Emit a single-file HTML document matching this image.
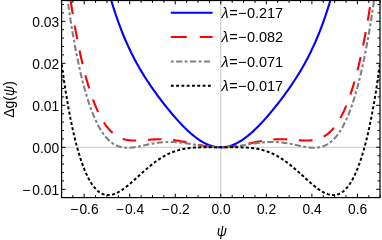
<!DOCTYPE html>
<html><head><meta charset="utf-8"><style>
html,body{margin:0;padding:0;background:#fff}
svg{display:block}
text{font-family:"Liberation Sans",sans-serif;font-size:13.8px;fill:#000}
</style></head><body>
<svg width="382" height="240" viewBox="0 0 382 240">
<rect width="382" height="240" fill="#fff"/>
<defs><clipPath id="c"><rect x="61.6" y="0.5" width="318.4" height="197.1"/></clipPath></defs>
<g clip-path="url(#c)" fill="none">
<path d="M61.6 147.3H380.0M220.8 0.5V197.6" stroke="#c8c8c8" stroke-width="1"/>
<path d="M101.26 -38.23 L102.40 -33.29 L103.53 -28.50 L104.67 -23.85 L105.81 -19.34 L106.95 -14.97 L108.09 -10.74 L109.23 -6.63 L110.37 -2.65 L111.50 1.21 L112.64 4.95 L113.78 8.58 L114.92 12.10 L116.06 15.52 L117.20 18.83 L118.34 22.05 L119.47 25.17 L120.61 28.20 L121.75 31.14 L122.89 34.00 L124.03 36.78 L125.17 39.48 L126.30 42.10 L127.44 44.66 L128.58 47.15 L129.72 49.57 L130.86 51.93 L132.00 54.24 L133.14 56.48 L134.27 58.68 L135.41 60.82 L136.55 62.92 L137.69 64.97 L138.83 66.98 L139.97 68.94 L141.11 70.87 L142.24 72.76 L143.38 74.62 L144.52 76.44 L145.66 78.23 L146.80 80.00 L147.94 81.74 L149.07 83.45 L150.21 85.13 L151.35 86.79 L152.49 88.43 L153.63 90.05 L154.77 91.65 L155.91 93.23 L157.04 94.79 L158.18 96.34 L159.32 97.86 L160.46 99.37 L161.60 100.87 L162.74 102.35 L163.88 103.81 L165.01 105.26 L166.15 106.69 L167.29 108.11 L168.43 109.51 L169.57 110.89 L170.71 112.27 L171.84 113.62 L172.98 114.96 L174.12 116.28 L175.26 117.59 L176.40 118.87 L177.54 120.14 L178.68 121.39 L179.81 122.63 L180.95 123.84 L182.09 125.03 L183.23 126.20 L184.37 127.34 L185.51 128.46 L186.65 129.56 L187.78 130.64 L188.92 131.69 L190.06 132.71 L191.20 133.70 L192.34 134.67 L193.48 135.61 L194.61 136.51 L195.75 137.39 L196.89 138.23 L198.03 139.04 L199.17 139.82 L200.31 140.56 L201.45 141.27 L202.58 141.94 L203.72 142.57 L204.86 143.17 L206.00 143.73 L207.14 144.25 L208.28 144.73 L209.42 145.17 L210.55 145.57 L211.69 145.93 L212.83 146.25 L213.97 146.53 L215.11 146.76 L216.25 146.96 L217.38 147.11 L218.52 147.21 L219.66 147.28 L220.80 147.30 L221.94 147.28 L223.08 147.21 L224.22 147.11 L225.35 146.96 L226.49 146.76 L227.63 146.53 L228.77 146.25 L229.91 145.93 L231.05 145.57 L232.19 145.17 L233.32 144.73 L234.46 144.25 L235.60 143.73 L236.74 143.17 L237.88 142.57 L239.02 141.94 L240.15 141.27 L241.29 140.56 L242.43 139.82 L243.57 139.04 L244.71 138.23 L245.85 137.39 L246.99 136.51 L248.12 135.61 L249.26 134.67 L250.40 133.70 L251.54 132.71 L252.68 131.69 L253.82 130.64 L254.96 129.56 L256.09 128.46 L257.23 127.34 L258.37 126.20 L259.51 125.03 L260.65 123.84 L261.79 122.63 L262.92 121.39 L264.06 120.14 L265.20 118.87 L266.34 117.59 L267.48 116.28 L268.62 114.96 L269.76 113.62 L270.89 112.27 L272.03 110.89 L273.17 109.51 L274.31 108.11 L275.45 106.69 L276.59 105.26 L277.73 103.81 L278.86 102.35 L280.00 100.87 L281.14 99.37 L282.28 97.86 L283.42 96.34 L284.56 94.79 L285.69 93.23 L286.83 91.65 L287.97 90.05 L289.11 88.43 L290.25 86.79 L291.39 85.13 L292.53 83.45 L293.66 81.74 L294.80 80.00 L295.94 78.23 L297.08 76.44 L298.22 74.62 L299.36 72.76 L300.50 70.87 L301.63 68.94 L302.77 66.98 L303.91 64.97 L305.05 62.92 L306.19 60.82 L307.33 58.68 L308.46 56.48 L309.60 54.24 L310.74 51.93 L311.88 49.57 L313.02 47.15 L314.16 44.66 L315.30 42.10 L316.43 39.48 L317.57 36.78 L318.71 34.00 L319.85 31.14 L320.99 28.20 L322.13 25.17 L323.27 22.05 L324.40 18.83 L325.54 15.52 L326.68 12.10 L327.82 8.58 L328.96 4.95 L330.10 1.21 L331.23 -2.65 L332.37 -6.63 L333.51 -10.74 L334.65 -14.97 L335.79 -19.34 L336.93 -23.85 L338.07 -28.50 L339.20 -33.29 L340.34 -38.23" stroke="#0000ff" stroke-width="2.1"/>
<path d="M65.96 -32.92 L67.10 -24.20 L68.24 -15.84 L69.38 -7.82 L70.52 -0.13 L71.66 7.24 L72.80 14.31 L73.93 21.09 L75.07 27.58 L76.21 33.81 L77.35 39.78 L78.49 45.49 L79.63 50.97 L80.76 56.20 L81.90 61.22 L83.04 66.01 L84.18 70.60 L85.32 74.97 L86.46 79.15 L87.60 83.14 L88.73 86.95 L89.87 90.57 L91.01 94.02 L92.15 97.30 L93.29 100.41 L94.43 103.37 L95.57 106.17 L96.70 108.82 L97.84 111.34 L98.98 113.71 L100.12 115.94 L101.26 118.05 L102.40 120.03 L103.53 121.89 L104.67 123.63 L105.81 125.26 L106.95 126.78 L108.09 128.19 L109.23 129.50 L110.37 130.72 L111.50 131.85 L112.64 132.88 L113.78 133.83 L114.92 134.70 L116.06 135.50 L117.20 136.22 L118.34 136.86 L119.47 137.45 L120.61 137.97 L121.75 138.43 L122.89 138.84 L124.03 139.19 L125.17 139.50 L126.30 139.76 L127.44 139.97 L128.58 140.15 L129.72 140.29 L130.86 140.40 L132.00 140.48 L133.14 140.53 L134.27 140.55 L135.41 140.56 L136.55 140.54 L137.69 140.51 L138.83 140.46 L139.97 140.40 L141.11 140.33 L142.24 140.25 L143.38 140.16 L144.52 140.07 L145.66 139.98 L146.80 139.89 L147.94 139.80 L149.07 139.71 L150.21 139.62 L151.35 139.54 L152.49 139.46 L153.63 139.40 L154.77 139.34 L155.91 139.29 L157.04 139.25 L158.18 139.22 L159.32 139.20 L160.46 139.19 L161.60 139.20 L162.74 139.22 L163.88 139.25 L165.01 139.29 L166.15 139.35 L167.29 139.42 L168.43 139.50 L169.57 139.60 L170.71 139.71 L171.84 139.83 L172.98 139.96 L174.12 140.11 L175.26 140.27 L176.40 140.43 L177.54 140.61 L178.68 140.80 L179.81 141.00 L180.95 141.20 L182.09 141.41 L183.23 141.63 L184.37 141.86 L185.51 142.09 L186.65 142.32 L187.78 142.56 L188.92 142.80 L190.06 143.04 L191.20 143.28 L192.34 143.53 L193.48 143.77 L194.61 144.01 L195.75 144.25 L196.89 144.48 L198.03 144.71 L199.17 144.94 L200.31 145.15 L201.45 145.36 L202.58 145.57 L203.72 145.76 L204.86 145.95 L206.00 146.13 L207.14 146.29 L208.28 146.45 L209.42 146.59 L210.55 146.72 L211.69 146.84 L212.83 146.95 L213.97 147.04 L215.11 147.12 L216.25 147.18 L217.38 147.23 L218.52 147.27 L219.66 147.29 L220.80 147.30 L221.94 147.29 L223.08 147.27 L224.22 147.23 L225.35 147.18 L226.49 147.12 L227.63 147.04 L228.77 146.95 L229.91 146.84 L231.05 146.72 L232.19 146.59 L233.32 146.45 L234.46 146.29 L235.60 146.13 L236.74 145.95 L237.88 145.76 L239.02 145.57 L240.15 145.36 L241.29 145.15 L242.43 144.94 L243.57 144.71 L244.71 144.48 L245.85 144.25 L246.99 144.01 L248.12 143.77 L249.26 143.53 L250.40 143.28 L251.54 143.04 L252.68 142.80 L253.82 142.56 L254.96 142.32 L256.09 142.09 L257.23 141.86 L258.37 141.63 L259.51 141.41 L260.65 141.20 L261.79 141.00 L262.92 140.80 L264.06 140.61 L265.20 140.43 L266.34 140.27 L267.48 140.11 L268.62 139.96 L269.76 139.83 L270.89 139.71 L272.03 139.60 L273.17 139.50 L274.31 139.42 L275.45 139.35 L276.59 139.29 L277.73 139.25 L278.86 139.22 L280.00 139.20 L281.14 139.19 L282.28 139.20 L283.42 139.22 L284.56 139.25 L285.69 139.29 L286.83 139.34 L287.97 139.40 L289.11 139.46 L290.25 139.54 L291.39 139.62 L292.53 139.71 L293.66 139.80 L294.80 139.89 L295.94 139.98 L297.08 140.07 L298.22 140.16 L299.36 140.25 L300.50 140.33 L301.63 140.40 L302.77 140.46 L303.91 140.51 L305.05 140.54 L306.19 140.56 L307.33 140.55 L308.46 140.53 L309.60 140.48 L310.74 140.40 L311.88 140.29 L313.02 140.15 L314.16 139.97 L315.30 139.76 L316.43 139.50 L317.57 139.19 L318.71 138.84 L319.85 138.43 L320.99 137.97 L322.13 137.45 L323.27 136.86 L324.40 136.22 L325.54 135.50 L326.68 134.70 L327.82 133.83 L328.96 132.88 L330.10 131.85 L331.23 130.72 L332.37 129.50 L333.51 128.19 L334.65 126.78 L335.79 125.26 L336.93 123.63 L338.07 121.89 L339.20 120.03 L340.34 118.05 L341.48 115.94 L342.62 113.71 L343.76 111.34 L344.90 108.82 L346.04 106.17 L347.17 103.37 L348.31 100.41 L349.45 97.30 L350.59 94.02 L351.73 90.57 L352.87 86.95 L354.00 83.14 L355.14 79.15 L356.28 74.97 L357.42 70.60 L358.56 66.01 L359.70 61.22 L360.84 56.20 L361.97 50.97 L363.11 45.49 L364.25 39.78 L365.39 33.81 L366.53 27.58 L367.67 21.09 L368.81 14.31 L369.94 7.24 L371.08 -0.13 L372.22 -7.82 L373.36 -15.84 L374.50 -24.20 L375.64 -32.92" stroke="#ff0000" stroke-width="2.1" stroke-dasharray="13.7 11.7" stroke-dashoffset="-8.4"/>
<path d="M62.55 -39.09 L63.69 -29.51 L64.83 -20.34 L65.96 -11.56 L67.10 -3.15 L68.24 4.90 L69.38 12.61 L70.52 19.99 L71.66 27.06 L72.80 33.83 L73.93 40.31 L75.07 46.51 L76.21 52.44 L77.35 58.11 L78.49 63.54 L79.63 68.72 L80.76 73.68 L81.90 78.41 L83.04 82.92 L84.18 87.23 L85.32 91.33 L86.46 95.24 L87.60 98.95 L88.73 102.49 L89.87 105.84 L91.01 109.03 L92.15 112.04 L93.29 114.90 L94.43 117.60 L95.57 120.15 L96.70 122.55 L97.84 124.81 L98.98 126.93 L100.12 128.92 L101.26 130.78 L102.40 132.52 L103.53 134.14 L104.67 135.64 L105.81 137.04 L106.95 138.33 L108.09 139.51 L109.23 140.60 L110.37 141.59 L111.50 142.49 L112.64 143.31 L113.78 144.04 L114.92 144.69 L116.06 145.27 L117.20 145.78 L118.34 146.22 L119.47 146.60 L120.61 146.91 L121.75 147.17 L122.89 147.38 L124.03 147.54 L125.17 147.65 L126.30 147.71 L127.44 147.74 L128.58 147.73 L129.72 147.68 L130.86 147.61 L132.00 147.50 L133.14 147.38 L134.27 147.22 L135.41 147.05 L136.55 146.87 L137.69 146.66 L138.83 146.45 L139.97 146.22 L141.11 145.99 L142.24 145.75 L143.38 145.50 L144.52 145.26 L145.66 145.01 L146.80 144.77 L147.94 144.53 L149.07 144.29 L150.21 144.06 L151.35 143.84 L152.49 143.62 L153.63 143.42 L154.77 143.22 L155.91 143.04 L157.04 142.87 L158.18 142.71 L159.32 142.57 L160.46 142.44 L161.60 142.32 L162.74 142.22 L163.88 142.13 L165.01 142.06 L166.15 142.01 L167.29 141.97 L168.43 141.95 L169.57 141.94 L170.71 141.94 L171.84 141.97 L172.98 142.00 L174.12 142.05 L175.26 142.11 L176.40 142.19 L177.54 142.28 L178.68 142.38 L179.81 142.49 L180.95 142.62 L182.09 142.75 L183.23 142.89 L184.37 143.04 L185.51 143.20 L186.65 143.36 L187.78 143.53 L188.92 143.71 L190.06 143.88 L191.20 144.07 L192.34 144.25 L193.48 144.44 L194.61 144.62 L195.75 144.81 L196.89 144.99 L198.03 145.17 L199.17 145.35 L200.31 145.53 L201.45 145.70 L202.58 145.86 L203.72 146.02 L204.86 146.18 L206.00 146.32 L207.14 146.46 L208.28 146.59 L209.42 146.71 L210.55 146.82 L211.69 146.92 L212.83 147.00 L213.97 147.08 L215.11 147.15 L216.25 147.20 L217.38 147.24 L218.52 147.28 L219.66 147.29 L220.80 147.30 L221.94 147.29 L223.08 147.28 L224.22 147.24 L225.35 147.20 L226.49 147.15 L227.63 147.08 L228.77 147.00 L229.91 146.92 L231.05 146.82 L232.19 146.71 L233.32 146.59 L234.46 146.46 L235.60 146.32 L236.74 146.18 L237.88 146.02 L239.02 145.86 L240.15 145.70 L241.29 145.53 L242.43 145.35 L243.57 145.17 L244.71 144.99 L245.85 144.81 L246.99 144.62 L248.12 144.44 L249.26 144.25 L250.40 144.07 L251.54 143.88 L252.68 143.71 L253.82 143.53 L254.96 143.36 L256.09 143.20 L257.23 143.04 L258.37 142.89 L259.51 142.75 L260.65 142.62 L261.79 142.49 L262.92 142.38 L264.06 142.28 L265.20 142.19 L266.34 142.11 L267.48 142.05 L268.62 142.00 L269.76 141.97 L270.89 141.94 L272.03 141.94 L273.17 141.95 L274.31 141.97 L275.45 142.01 L276.59 142.06 L277.73 142.13 L278.86 142.22 L280.00 142.32 L281.14 142.44 L282.28 142.57 L283.42 142.71 L284.56 142.87 L285.69 143.04 L286.83 143.22 L287.97 143.42 L289.11 143.62 L290.25 143.84 L291.39 144.06 L292.53 144.29 L293.66 144.53 L294.80 144.77 L295.94 145.01 L297.08 145.26 L298.22 145.50 L299.36 145.75 L300.50 145.99 L301.63 146.22 L302.77 146.45 L303.91 146.66 L305.05 146.87 L306.19 147.05 L307.33 147.22 L308.46 147.38 L309.60 147.50 L310.74 147.61 L311.88 147.68 L313.02 147.73 L314.16 147.74 L315.30 147.71 L316.43 147.65 L317.57 147.54 L318.71 147.38 L319.85 147.17 L320.99 146.91 L322.13 146.60 L323.27 146.22 L324.40 145.78 L325.54 145.27 L326.68 144.69 L327.82 144.04 L328.96 143.31 L330.10 142.49 L331.23 141.59 L332.37 140.60 L333.51 139.51 L334.65 138.33 L335.79 137.04 L336.93 135.64 L338.07 134.14 L339.20 132.52 L340.34 130.78 L341.48 128.92 L342.62 126.93 L343.76 124.81 L344.90 122.55 L346.04 120.15 L347.17 117.60 L348.31 114.90 L349.45 112.04 L350.59 109.03 L351.73 105.84 L352.87 102.49 L354.00 98.95 L355.14 95.24 L356.28 91.33 L357.42 87.23 L358.56 82.92 L359.70 78.41 L360.84 73.68 L361.97 68.72 L363.11 63.54 L364.25 58.11 L365.39 52.44 L366.53 46.51 L367.67 40.31 L368.81 33.83 L369.94 27.06 L371.08 19.99 L372.22 12.61 L373.36 4.90 L374.50 -3.15 L375.64 -11.56 L376.77 -20.34 L377.91 -29.51 L379.05 -39.09" stroke="#808080" stroke-width="2.1" stroke-dasharray="2.9 2.4 6.2 2.4" stroke-dashoffset="3.8"/>
<path d="M61.41 62.03 L62.55 70.46 L63.69 78.47 L64.83 86.08 L65.96 93.31 L67.10 100.18 L68.24 106.71 L69.38 112.90 L70.52 118.79 L71.66 124.36 L72.80 129.65 L73.93 134.66 L75.07 139.40 L76.21 143.89 L77.35 148.13 L78.49 152.13 L79.63 155.91 L80.76 159.46 L81.90 162.80 L83.04 165.94 L84.18 168.88 L85.32 171.62 L86.46 174.19 L87.60 176.57 L88.73 178.78 L89.87 180.83 L91.01 182.71 L92.15 184.44 L93.29 186.02 L94.43 187.46 L95.57 188.75 L96.70 189.91 L97.84 190.94 L98.98 191.85 L100.12 192.63 L101.26 193.29 L102.40 193.85 L103.53 194.29 L104.67 194.64 L105.81 194.88 L106.95 195.03 L108.09 195.08 L109.23 195.05 L110.37 194.94 L111.50 194.75 L112.64 194.48 L113.78 194.14 L114.92 193.73 L116.06 193.26 L117.20 192.73 L118.34 192.15 L119.47 191.51 L120.61 190.82 L121.75 190.09 L122.89 189.31 L124.03 188.50 L125.17 187.65 L126.30 186.77 L127.44 185.86 L128.58 184.93 L129.72 183.97 L130.86 182.99 L132.00 182.00 L133.14 180.99 L134.27 179.97 L135.41 178.95 L136.55 177.91 L137.69 176.88 L138.83 175.84 L139.97 174.80 L141.11 173.77 L142.24 172.74 L143.38 171.72 L144.52 170.71 L145.66 169.71 L146.80 168.72 L147.94 167.75 L149.07 166.79 L150.21 165.86 L151.35 164.93 L152.49 164.03 L153.63 163.15 L154.77 162.30 L155.91 161.46 L157.04 160.65 L158.18 159.86 L159.32 159.10 L160.46 158.36 L161.60 157.65 L162.74 156.97 L163.88 156.31 L165.01 155.68 L166.15 155.07 L167.29 154.49 L168.43 153.94 L169.57 153.42 L170.71 152.92 L171.84 152.45 L172.98 152.00 L174.12 151.58 L175.26 151.19 L176.40 150.81 L177.54 150.47 L178.68 150.14 L179.81 149.84 L180.95 149.56 L182.09 149.30 L183.23 149.06 L184.37 148.85 L185.51 148.65 L186.65 148.46 L187.78 148.30 L188.92 148.15 L190.06 148.02 L191.20 147.90 L192.34 147.79 L193.48 147.70 L194.61 147.62 L195.75 147.55 L196.89 147.49 L198.03 147.44 L199.17 147.40 L200.31 147.36 L201.45 147.34 L202.58 147.32 L203.72 147.30 L204.86 147.29 L206.00 147.28 L207.14 147.28 L208.28 147.27 L209.42 147.27 L210.55 147.28 L211.69 147.28 L212.83 147.28 L213.97 147.29 L215.11 147.29 L216.25 147.29 L217.38 147.30 L218.52 147.30 L219.66 147.30 L220.80 147.30 L221.94 147.30 L223.08 147.30 L224.22 147.30 L225.35 147.29 L226.49 147.29 L227.63 147.29 L228.77 147.28 L229.91 147.28 L231.05 147.28 L232.19 147.27 L233.32 147.27 L234.46 147.28 L235.60 147.28 L236.74 147.29 L237.88 147.30 L239.02 147.32 L240.15 147.34 L241.29 147.36 L242.43 147.40 L243.57 147.44 L244.71 147.49 L245.85 147.55 L246.99 147.62 L248.12 147.70 L249.26 147.79 L250.40 147.90 L251.54 148.02 L252.68 148.15 L253.82 148.30 L254.96 148.46 L256.09 148.65 L257.23 148.85 L258.37 149.06 L259.51 149.30 L260.65 149.56 L261.79 149.84 L262.92 150.14 L264.06 150.47 L265.20 150.81 L266.34 151.19 L267.48 151.58 L268.62 152.00 L269.76 152.45 L270.89 152.92 L272.03 153.42 L273.17 153.94 L274.31 154.49 L275.45 155.07 L276.59 155.68 L277.73 156.31 L278.86 156.97 L280.00 157.65 L281.14 158.36 L282.28 159.10 L283.42 159.86 L284.56 160.65 L285.69 161.46 L286.83 162.30 L287.97 163.15 L289.11 164.03 L290.25 164.93 L291.39 165.86 L292.53 166.79 L293.66 167.75 L294.80 168.72 L295.94 169.71 L297.08 170.71 L298.22 171.72 L299.36 172.74 L300.50 173.77 L301.63 174.80 L302.77 175.84 L303.91 176.88 L305.05 177.91 L306.19 178.95 L307.33 179.97 L308.46 180.99 L309.60 182.00 L310.74 182.99 L311.88 183.97 L313.02 184.93 L314.16 185.86 L315.30 186.77 L316.43 187.65 L317.57 188.50 L318.71 189.31 L319.85 190.09 L320.99 190.82 L322.13 191.51 L323.27 192.15 L324.40 192.73 L325.54 193.26 L326.68 193.73 L327.82 194.14 L328.96 194.48 L330.10 194.75 L331.23 194.94 L332.37 195.05 L333.51 195.08 L334.65 195.03 L335.79 194.88 L336.93 194.64 L338.07 194.29 L339.20 193.85 L340.34 193.29 L341.48 192.63 L342.62 191.85 L343.76 190.94 L344.90 189.91 L346.04 188.75 L347.17 187.46 L348.31 186.02 L349.45 184.44 L350.59 182.71 L351.73 180.83 L352.87 178.78 L354.00 176.57 L355.14 174.19 L356.28 171.62 L357.42 168.88 L358.56 165.94 L359.70 162.80 L360.84 159.46 L361.97 155.91 L363.11 152.13 L364.25 148.13 L365.39 143.89 L366.53 139.40 L367.67 134.66 L368.81 129.65 L369.94 124.36 L371.08 118.79 L372.22 112.90 L373.36 106.71 L374.50 100.18 L375.64 93.31 L376.77 86.08 L377.91 78.47 L379.05 70.46 L380.19 62.03" stroke="#000" stroke-width="2" stroke-dasharray="3 2.3" stroke-dashoffset="-2.5"/>
</g>
<path d="M61.41 197.60v-2.40 M61.41 0.50v2.40 M72.80 197.60v-2.40 M72.80 0.50v2.40 M84.18 197.60v-3.90 M84.18 0.50v3.90 M95.57 197.60v-2.40 M95.57 0.50v2.40 M106.95 197.60v-2.40 M106.95 0.50v2.40 M118.34 197.60v-2.40 M118.34 0.50v2.40 M129.72 197.60v-3.90 M129.72 0.50v3.90 M141.11 197.60v-2.40 M141.11 0.50v2.40 M152.49 197.60v-2.40 M152.49 0.50v2.40 M163.88 197.60v-2.40 M163.88 0.50v2.40 M175.26 197.60v-3.90 M175.26 0.50v3.90 M186.65 197.60v-2.40 M186.65 0.50v2.40 M198.03 197.60v-2.40 M198.03 0.50v2.40 M209.42 197.60v-2.40 M209.42 0.50v2.40 M220.80 197.60v-3.90 M220.80 0.50v3.90 M232.19 197.60v-2.40 M232.19 0.50v2.40 M243.57 197.60v-2.40 M243.57 0.50v2.40 M254.96 197.60v-2.40 M254.96 0.50v2.40 M266.34 197.60v-3.90 M266.34 0.50v3.90 M277.73 197.60v-2.40 M277.73 0.50v2.40 M289.11 197.60v-2.40 M289.11 0.50v2.40 M300.50 197.60v-2.40 M300.50 0.50v2.40 M311.88 197.60v-3.90 M311.88 0.50v3.90 M323.26 197.60v-2.40 M323.26 0.50v2.40 M334.65 197.60v-2.40 M334.65 0.50v2.40 M346.04 197.60v-2.40 M346.04 0.50v2.40 M357.42 197.60v-3.90 M357.42 0.50v3.90 M368.81 197.60v-2.40 M368.81 0.50v2.40 M380.19 197.60v-2.40 M380.19 0.50v2.40 M61.60 189.30h3.90 M380.00 189.30h-3.90 M61.60 180.90h2.40 M380.00 180.90h-2.40 M61.60 172.50h2.40 M380.00 172.50h-2.40 M61.60 164.10h2.40 M380.00 164.10h-2.40 M61.60 155.70h2.40 M380.00 155.70h-2.40 M61.60 147.30h3.90 M380.00 147.30h-3.90 M61.60 138.90h2.40 M380.00 138.90h-2.40 M61.60 130.50h2.40 M380.00 130.50h-2.40 M61.60 122.10h2.40 M380.00 122.10h-2.40 M61.60 113.70h2.40 M380.00 113.70h-2.40 M61.60 105.30h3.90 M380.00 105.30h-3.90 M61.60 96.90h2.40 M380.00 96.90h-2.40 M61.60 88.50h2.40 M380.00 88.50h-2.40 M61.60 80.10h2.40 M380.00 80.10h-2.40 M61.60 71.70h2.40 M380.00 71.70h-2.40 M61.60 63.30h3.90 M380.00 63.30h-3.90 M61.60 54.90h2.40 M380.00 54.90h-2.40 M61.60 46.50h2.40 M380.00 46.50h-2.40 M61.60 38.10h2.40 M380.00 38.10h-2.40 M61.60 29.70h2.40 M380.00 29.70h-2.40 M61.60 21.30h3.90 M380.00 21.30h-3.90 M61.60 12.90h2.40 M380.00 12.90h-2.40 M61.60 4.50h2.40 M380.00 4.50h-2.40" stroke="#000" stroke-width="1" fill="none"/>
<rect x="61.6" y="0.5" width="318.4" height="197.1" fill="none" stroke="#000" stroke-width="1.2"/>
<g fill="none" stroke-width="2">
<path d="M170.8 12.8H212.6" stroke="#0000ff"/>
<path d="M170.8 37.0H212.6" stroke="#ff0000" stroke-dasharray="16 13"/>
<path d="M170.8 61.6H212.0" stroke="#808080" stroke-dasharray="2.9 2.4 6.2 2.4"/>
<path d="M170.8 85.8H212.6" stroke="#000" stroke-width="2" stroke-dasharray="2.9 2.4"/>
</g>
<g style="will-change:transform"><text x="84.4" y="213.6" text-anchor="middle">−<tspan dx="1.2">0.6</tspan></text><text x="129.9" y="213.6" text-anchor="middle">−<tspan dx="1.2">0.4</tspan></text><text x="175.5" y="213.6" text-anchor="middle">−<tspan dx="1.2">0.2</tspan></text><text x="221.0" y="213.6" text-anchor="middle">0.0</text><text x="266.5" y="213.6" text-anchor="middle">0.2</text><text x="312.1" y="213.6" text-anchor="middle">0.4</text><text x="357.6" y="213.6" text-anchor="middle">0.6</text><text x="59.2" y="194.9" text-anchor="end">−<tspan dx="2.0">0.01</tspan></text><text x="59.2" y="152.9" text-anchor="end">0.00</text><text x="59.2" y="110.9" text-anchor="end">0.01</text><text x="59.2" y="68.9" text-anchor="end">0.02</text><text x="59.2" y="26.9" text-anchor="end">0.03</text>
<text x="221.8" y="235.8" text-anchor="middle" font-style="italic" style="font-size:14px">ψ</text>
<text transform="translate(14,99.5) rotate(-90)" text-anchor="middle" style="font-size:14px">Δg(<tspan font-style="italic">ψ</tspan>)</text>
<text x="221.5" y="17.8" style="font-size:14.5px"><tspan font-style="italic">λ</tspan><tspan dx="0.5">=</tspan><tspan dx="0.4">−</tspan><tspan dx="0.4">0.217</tspan></text><text x="221.5" y="42.0" style="font-size:14.5px"><tspan font-style="italic">λ</tspan><tspan dx="0.5">=</tspan><tspan dx="0.4">−</tspan><tspan dx="0.4">0.082</tspan></text><text x="221.5" y="66.6" style="font-size:14.5px"><tspan font-style="italic">λ</tspan><tspan dx="0.5">=</tspan><tspan dx="0.4">−</tspan><tspan dx="0.4">0.071</tspan></text><text x="221.5" y="90.8" style="font-size:14.5px"><tspan font-style="italic">λ</tspan><tspan dx="0.5">=</tspan><tspan dx="0.4">−</tspan><tspan dx="0.4">0.017</tspan></text></g>
</svg></body></html>
